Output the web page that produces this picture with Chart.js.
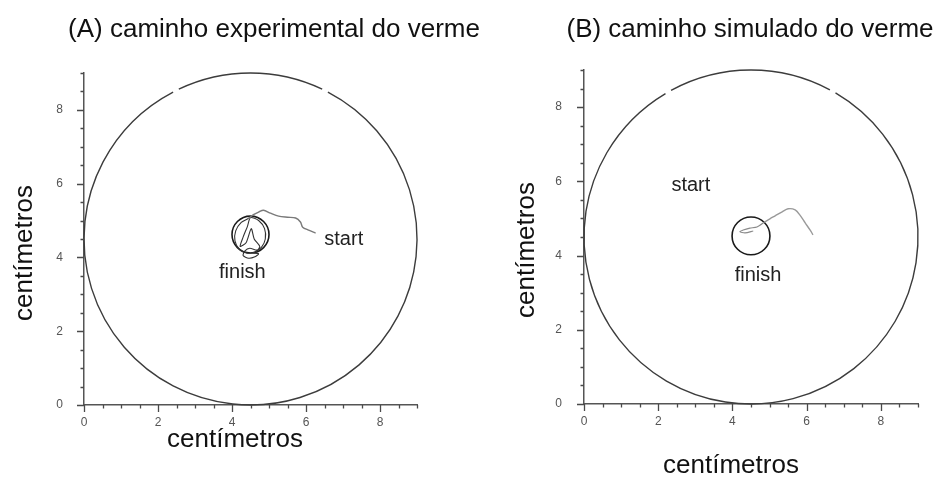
<!DOCTYPE html>
<html>
<head>
<meta charset="utf-8">
<script src="https://cdn.jsdelivr.net/npm/chart.js@4.4.1/dist/chart.umd.min.js"></script>
<style>
  html, body { margin: 0; padding: 0; background: #fff; }
  #wrap { position: relative; width: 944px; height: 485px; overflow: hidden; }
  canvas { position: absolute; top: 0; }
  #chartA { left: 0; }
  #chartB { left: 472px; }
</style>
</head>
<body>
<div id="wrap">
  <canvas id="chartA" width="560" height="485" style="width:560px;height:485px"></canvas>
  <canvas id="chartB" width="472" height="485" style="width:472px;height:485px"></canvas>
</div>
<script>
// Axis ticks (centimetres)
const tickValues = [0, 2, 4, 6, 8];
const tickLabels = ['0', '2', '4', '6', '8'];
const axisMin = 0;
const axisMax = 9;
const minorStep = 0.5;

// Arena (petri dish) and target ring, in centimetres
const arenaX = 4.5, arenaY = 4.5, arenaR = 4.5;
const goalAx = 4.5, goalAy = 4.62, goalAr = 0.5;
const goalBx = 4.5, goalBy = 4.53, goalBr = 0.51;

// (A) recorded worm track: from start towards the ring
const trackAx = [6.26, 6.07, 5.91, 5.85, 5.72, 5.50, 5.26, 5.04, 4.85, 4.72, 4.58, 4.45];
const trackAy = [4.66, 4.74, 4.82, 4.96, 5.07, 5.09, 5.12, 5.20, 5.28, 5.23, 5.16, 5.06];
// (A) wandering inside and around the ring
const loopAx = [4.45, 4.25, 4.10, 4.08, 4.20, 4.40, 4.62, 4.80, 4.90, 4.88, 4.72, 4.50, 4.42, 4.30, 4.22, 4.38, 4.52, 4.60, 4.75, 4.68, 4.48, 4.35, 4.30, 4.45, 4.62, 4.72, 4.55];
const loopAy = [5.06, 4.95, 4.72, 4.45, 4.22, 4.12, 4.15, 4.28, 4.50, 4.78, 5.00, 5.08, 4.85, 4.55, 4.30, 4.40, 4.78, 4.50, 4.30, 4.20, 4.25, 4.18, 4.05, 3.98, 4.02, 4.10, 4.12];

// (B) simulated worm track
const trackBx = [6.17, 6.09, 5.96, 5.82, 5.69, 5.50, 5.34, 5.15, 5.01, 4.88];
const trackBy = [4.56, 4.69, 4.88, 5.09, 5.23, 5.26, 5.18, 5.07, 4.99, 4.91];
const loopBx = [4.88, 4.66, 4.47, 4.29, 4.20, 4.34, 4.56];
const loopBy = [4.91, 4.77, 4.74, 4.69, 4.64, 4.61, 4.66];

// Panel texts
const titleA = '(A) caminho experimental do verme';
const titleB = '(B) caminho simulado do verme';
const axisTitle = 'centímetros';
const notesA = [{ text: 'start', x: 7.02, y: 4.49 }, { text: 'finish', x: 4.28, y: 3.58 }];
const notesB = [{ text: 'start', x: 2.88, y: 5.88 }, { text: 'finish', x: 4.69, y: 3.45 }];

const FONT = '"Liberation Sans", Arial, Helvetica, sans-serif';
const font = (size) => `${size}px ${FONT}`;
const zip = (xs, ys) => xs.map((x, i) => ({ x, y: ys[i] }));

// Circles (arena and target ring) drawn through the scales
function strokeCircle(chart, cx, cy, r, gaps, color, width) {
  const xs = chart.scales.x, ys = chart.scales.y, c = chart.ctx;
  const px = xs.getPixelForValue(cx), py = ys.getPixelForValue(cy);
  const rx = xs.getPixelForValue(cx + r) - px;
  const ry = py - ys.getPixelForValue(cy + r);
  const deg = Math.PI / 180;
  // gaps given as [data-space angle (ccw, deg), half width (deg)]
  const cuts = gaps.map(([a, h]) => {
    let s = (360 - a - h) % 360; if (s < 0) s += 360;
    return [s, s + 2 * h];
  }).sort((p, q) => p[0] - q[0]);
  c.save();
  c.strokeStyle = color;
  c.lineWidth = width;
  if (!cuts.length) {
    c.beginPath(); c.ellipse(px, py, rx, ry, 0, 0, 2 * Math.PI); c.stroke();
  } else {
    for (let i = 0; i < cuts.length; i++) {
      const from = cuts[i][1];
      const to = i + 1 < cuts.length ? cuts[i + 1][0] : cuts[0][0] + 360;
      c.beginPath(); c.ellipse(px, py, rx, ry, 0, from * deg, to * deg); c.stroke();
    }
  }
  c.restore();
}

const circlesPlugin = {
  id: 'dishCircles',
  beforeDatasetsDraw(chart, args, opts) {
    strokeCircle(chart, arenaX, arenaY, arenaR, opts.arenaGaps, '#3c3c3c', 1.4);
    strokeCircle(chart, opts.goal[0], opts.goal[1], opts.goal[2], [], '#1a1a1a', 1.6);
  }
};

// Major and minor tick marks on both axes
const ticksPlugin = {
  id: 'axisTicks',
  afterDraw(chart) {
    const c = chart.ctx, xs = chart.scales.x, ys = chart.scales.y, a = chart.chartArea;
    c.save();
    c.strokeStyle = '#4a4a4a';
    c.lineWidth = 1.3;
    c.beginPath();
    for (let v = axisMin; v <= axisMax + 1e-9; v += minorStep) {
      const len = tickValues.includes(v) ? 7 : 3.5;
      const x = Math.round(xs.getPixelForValue(v)) + 0.5;
      c.moveTo(x, a.bottom); c.lineTo(x, a.bottom + len);
      const y = Math.round(ys.getPixelForValue(v)) + 0.5;
      c.moveTo(a.left, y); c.lineTo(a.left - len, y);
    }
    c.stroke();
    c.restore();
  }
};

// Titles, axis titles and start/finish notes
const textPlugin = {
  id: 'panelText',
  afterDraw(chart, args, o) {
    const c = chart.ctx, xs = chart.scales.x, ys = chart.scales.y;
    c.save();
    c.fillStyle = '#111';
    c.textAlign = 'center';
    c.textBaseline = 'middle';
    c.font = font(26);
    c.fillText(o.title, o.titleX, o.titleY);
    c.fillText(o.xTitle, o.xTitleX, o.xTitleY);
    c.save();
    c.translate(o.yTitleX, o.yTitleY);
    c.rotate(-Math.PI / 2);
    c.fillText(o.yTitle, 0, 0);
    c.restore();
    c.font = font(20);
    c.fillStyle = '#222';
    for (const n of o.notes) {
      c.fillText(n.text, xs.getPixelForValue(n.x), ys.getPixelForValue(n.y));
    }
    c.restore();
  }
};

function tickText(v) {
  const i = tickValues.indexOf(v);
  return i >= 0 ? tickLabels[i] : '';
}

function makePanel(id, cfg) {
  return new Chart(document.getElementById(id), {
    type: 'scatter',
    data: {
      datasets: [
        { data: cfg.track, showLine: true, pointRadius: 0, borderColor: cfg.trackColor, borderWidth: 1.4, tension: 0.3 },
        { data: cfg.loop, showLine: true, pointRadius: 0, borderColor: cfg.loopColor, borderWidth: 1.1, tension: 0.25 }
      ]
    },
    options: {
      responsive: false,
      animation: false,
      devicePixelRatio: 1,
      layout: { padding: cfg.padding },
      plugins: {
        legend: { display: false },
        tooltip: { enabled: false },
        dishCircles: { arenaGaps: cfg.arenaGaps, goal: cfg.goal },
        panelText: cfg.text
      },
      scales: {
        x: {
          type: 'linear', min: axisMin, max: axisMax,
          grid: { display: false, drawTicks: false },
          border: { display: true, color: '#555', width: 1.5 },
          ticks: { stepSize: minorStep, autoSkip: false, maxRotation: 0, padding: 10,
                   color: '#555', font: { family: FONT, size: 12 }, callback: tickText },
          afterFit: (s) => { s.height = cfg.xHeight; }
        },
        y: {
          type: 'linear', min: axisMin, max: axisMax,
          grid: { display: false, drawTicks: false },
          border: { display: true, color: '#555', width: 1.5 },
          ticks: { stepSize: minorStep, autoSkip: false, padding: cfg.yPad,
                   color: '#555', font: { family: FONT, size: 12 }, callback: tickText },
          afterFit: (s) => { s.width = cfg.yWidth; }
        }
      }
    },
    plugins: [circlesPlugin, ticksPlugin, textPlugin]
  });
}

makePanel('chartA', {
  track: zip(trackAx, trackAy), trackColor: '#7a7a7a',
  loop: zip(loopAx, loopAy), loopColor: '#333333',
  goal: [goalAx, goalAy, goalAr],
  arenaGaps: [[63.4, 1.1], [116.6, 1.1]],
  padding: { left: 0, right: 143, top: 73, bottom: 0 },
  xHeight: 80, yWidth: 84, yPad: 21,
  text: { title: titleA, titleX: 274, titleY: 30,
          xTitle: axisTitle, xTitleX: 235, xTitleY: 440,
          yTitle: axisTitle, yTitleX: 25, yTitleY: 253, notes: notesA }
});

makePanel('chartB', {
  track: zip(trackBx, trackBy), trackColor: '#9a9a9a',
  loop: zip(loopBx, loopBy), loopColor: '#8a8a8a',
  goal: [goalBx, goalBy, goalBr],
  arenaGaps: [[60.7, 1.1], [119.7, 1.1]],
  padding: { left: 0, right: 26, top: 70, bottom: 0 },
  xHeight: 81, yWidth: 112, yPad: 22,
  text: { title: titleB, titleX: 278, titleY: 30,
          xTitle: axisTitle, xTitleX: 259, xTitleY: 466,
          yTitle: axisTitle, yTitleX: 55, yTitleY: 250, notes: notesB }
});
</script>
</body>
</html>
